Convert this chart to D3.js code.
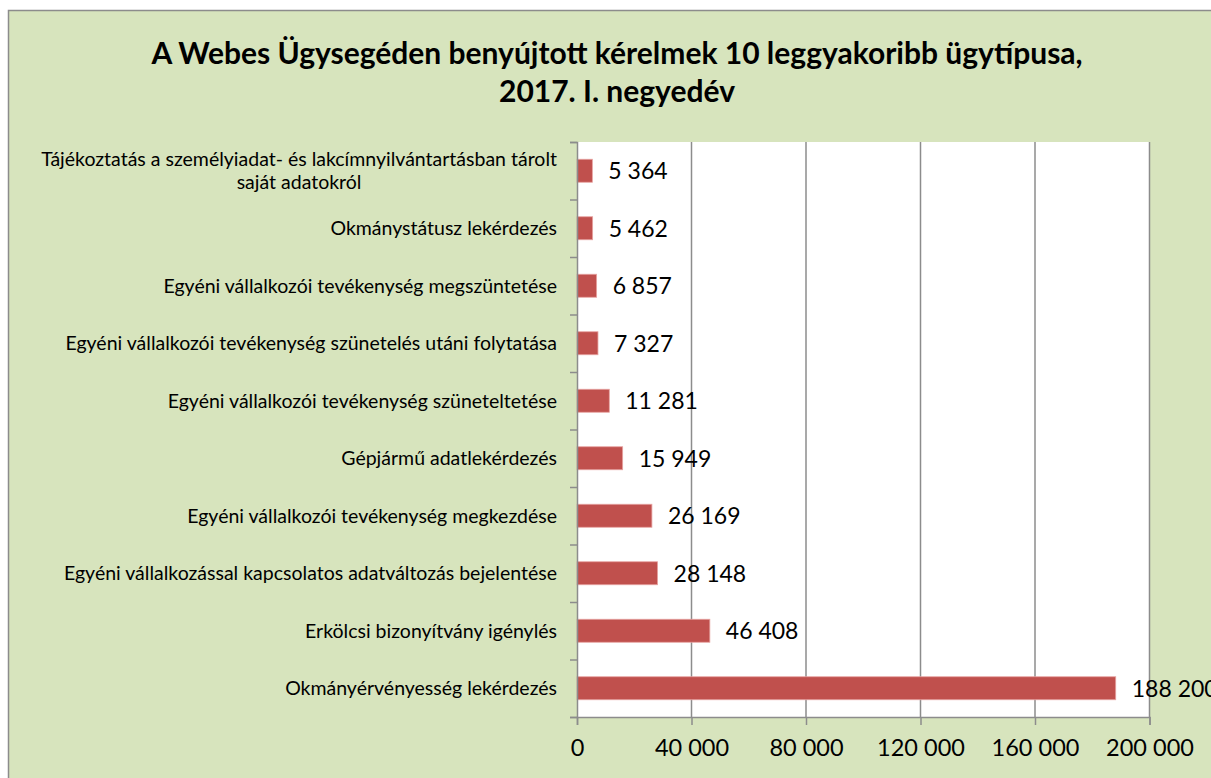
<!DOCTYPE html>
<html>
<head>
<meta charset="utf-8">
<script src="https://d3js.org/d3.v7.min.js"></script>
<style>
body {margin: 0; background: #fff;}
text {font-family: Lato, "Open Sans", sans-serif; fill: #000;}
</style>
</head>
<body>
<svg id="chart" width="1211" height="778"></svg>
<script>
// data
var categories = [
    ["Tájékoztatás a személyiadat- és lakcímnyilvántartásban tárolt", "saját adatokról"],
    ["Okmánystátusz lekérdezés"],
    ["Egyéni vállalkozói tevékenység megszüntetése"],
    ["Egyéni vállalkozói tevékenység szünetelés utáni folytatása"],
    ["Egyéni vállalkozói tevékenység szüneteltetése"],
    ["Gépjármű adatlekérdezés"],
    ["Egyéni vállalkozói tevékenység megkezdése"],
    ["Egyéni vállalkozással kapcsolatos adatváltozás bejelentése"],
    ["Erkölcsi bizonyítvány igénylés"],
    ["Okmányérvényesség lekérdezés"]
];
var values = [5364, 5462, 6857, 7327, 11281, 15949, 26169, 28148, 46408, 188200];
var xTicks = [0, 40000, 80000, 120000, 160000, 200000];
var titleLines = ["A Webes Ügysegéden benyújtott kérelmek 10 leggyakoribb ügytípusa,", "2017. I. negyedév"];

var svg = d3.select("#chart");
var fmt = function(v) { return d3.format(",")(v).replace(/,/g, " "); };

// background
svg.append("rect").attr("x", 8.5).attr("y", 10.5).attr("width", 1220).attr("height", 800)
    .style("fill", "#d7e4bd").style("stroke", "#8c8c8c").style("stroke-width", 1.5);

// title
svg.append("g").selectAll("text").data(titleLines).enter().append("text")
    .attr("x", 617).attr("y", function(d, i) { return 64 + i * 38; })
    .attr("text-anchor", "middle").style("font-size", "30px").style("font-weight", "bold")
    .text(function(d) { return d; });

var pLeft = 577, pRight = 1149.5, pTop = 142, pBottom = 717;
var x = d3.scaleLinear().domain([0, 200000]).range([pLeft, pRight]);
var idx = d3.range(categories.length);
var y = d3.scaleBand().domain(idx).range([pTop, pBottom]).paddingInner(0.6).paddingOuter(0.3);

// plot area
svg.append("rect").attr("x", pLeft).attr("y", pTop).attr("width", pRight - pLeft).attr("height", pBottom - pTop)
    .style("fill", "#fff");

// grid
svg.append("g").selectAll("line").data(xTicks.slice(1)).enter().append("line")
    .attr("x1", function(d) { return x(d); }).attr("x2", function(d) { return x(d); })
    .attr("y1", pTop).attr("y2", pBottom)
    .style("stroke", "#8c8c8c").style("stroke-width", 1.5);

// bars
svg.append("g").selectAll("rect").data(idx).enter().append("rect")
    .attr("x", pLeft).attr("y", function(i) { return y(i); })
    .attr("width", function(i) { return x(values[i]) - pLeft; })
    .attr("height", y.bandwidth())
    .style("fill", "#c0504d").style("stroke", "#e7a3a1").style("stroke-width", 0.8);

// value labels
svg.append("g").selectAll("text").data(idx).enter().append("text")
    .attr("x", function(i) { return x(values[i]) + 16; })
    .attr("y", function(i) { return y(i) + y.bandwidth() / 2; })
    .attr("dy", "0.36em").style("font-size", "23px")
    .text(function(i) { return fmt(values[i]); });

// x axis
var xAxis = svg.append("g").attr("transform", "translate(0," + pBottom + ")")
    .call(d3.axisBottom(x).tickValues(xTicks).tickSize(8).tickPadding(14).tickFormat(fmt));
xAxis.select(".domain").style("stroke", "#8c8c8c").style("stroke-width", 1.5);
xAxis.selectAll(".tick line").style("stroke", "#8c8c8c").style("stroke-width", 1.5);
xAxis.selectAll(".tick text").style("font-size", "23.5px").style("font-family", "Lato, sans-serif");

// y axis (category boundaries)
var yb = d3.scaleLinear().domain([0, categories.length]).range([pTop, pBottom]);
var yAxis = svg.append("g").attr("transform", "translate(" + pLeft + ",0)")
    .call(d3.axisLeft(yb).ticks(10).tickSize(7).tickFormat(""));
yAxis.select(".domain").style("stroke", "#8c8c8c").style("stroke-width", 1.5);
yAxis.selectAll(".tick line").style("stroke", "#8c8c8c").style("stroke-width", 1.5);

// category labels
var cat = svg.append("g").selectAll("text").data(idx).enter().append("text")
    .style("font-size", "19.5px")
    .attr("y", function(i) { return y(i) + y.bandwidth() / 2 - (categories[i].length - 1) * 11.5; });
cat.each(function(i) {
    var t = d3.select(this);
    if (categories[i].length === 1) {
        t.attr("text-anchor", "end").attr("x", 557).attr("dy", "0.36em").text(categories[i][0]);
    } else {
        t.attr("text-anchor", "middle");
        var spans = categories[i].map(function(line, k) {
            return t.append("tspan").attr("dy", k === 0 ? "0.36em" : "23px").text(line);
        });
        var w = spans[0].node().getComputedTextLength();
        spans.forEach(function(s) { s.attr("x", 557 - w / 2); });
    }
});
</script>
</body>
</html>
